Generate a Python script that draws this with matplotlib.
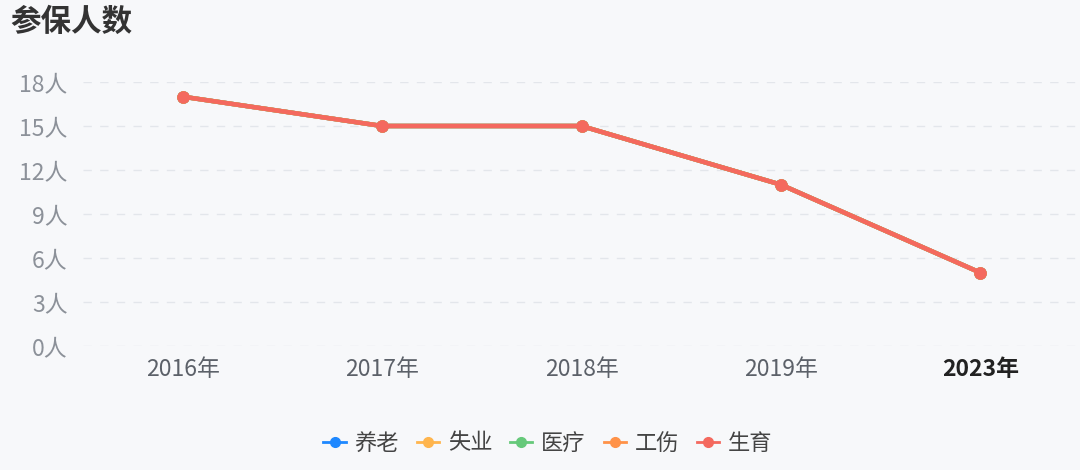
import matplotlib.pyplot as plt
from matplotlib.lines import Line2D

plt.rcParams['font.family'] = ['Noto Sans CJK SC', 'DejaVu Sans']

# 数据
years = ["2016年", "2017年", "2018年", "2019年", "2023年"]
series_names = ["养老", "失业", "医疗", "工伤", "生育"]
series_colors = ["#1e88ff", "#ffb54d", "#66c97a", "#ff9248", "#f4695e"]
# 只有"生育"的线可见，其余系列与其重合
values = [17, 15, 15, 11, 5]
y_ticks = [0, 3, 6, 9, 12, 15, 18]

bg = "#f7f8fa"
fig = plt.figure(figsize=(10.8, 4.7), dpi=100, facecolor=bg)
ax = fig.add_axes([83 / 1080, 124 / 470, 997 / 1080, 264 / 470], facecolor=bg)

x = list(range(len(years)))
for name, color in zip(series_names, series_colors):
    ax.plot(x, values, color=color, linewidth=3.2, marker='o', markersize=8,
            solid_capstyle='round', zorder=3)

ax.set_xlim(-0.5, len(years) - 0.5)
ax.set_ylim(0, 18)
ax.set_yticks(y_ticks)
ax.set_yticklabels([f"{v}人" for v in y_ticks], fontsize=16.5, color="#8c9199")
ax.set_xticks(x)
ax.set_xticklabels(years, fontsize=16.5, color="#5c6169")
ax.get_xticklabels()[-1].set_fontweight('bold')
ax.get_xticklabels()[-1].set_color("#222222")
ax.tick_params(length=0)
ax.tick_params(axis='y', pad=11)
ax.tick_params(axis='x', pad=9)
ax.grid(axis='y', color="#e3e6eb", linestyle=(0, (6, 6)), linewidth=1)
for s in ax.spines.values():
    s.set_visible(False)

fig.text(10 / 1080, 1 - 22 / 470, "参保人数", fontsize=22, fontweight='bold',
         color="#333333", va='center', ha='left')

handles = [Line2D([0], [0], color=c, marker='o', markersize=7, linewidth=2)
           for c in series_colors]
fig.legend(handles, series_names, loc='center', bbox_to_anchor=(548 / 1080, 1 - 443 / 470),
           ncol=5, frameon=False, fontsize=16, handlelength=1.0, handletextpad=0.4,
           columnspacing=0.8, labelcolor="#444444")

fig.savefig("out.png", dpi=100, facecolor=bg)
